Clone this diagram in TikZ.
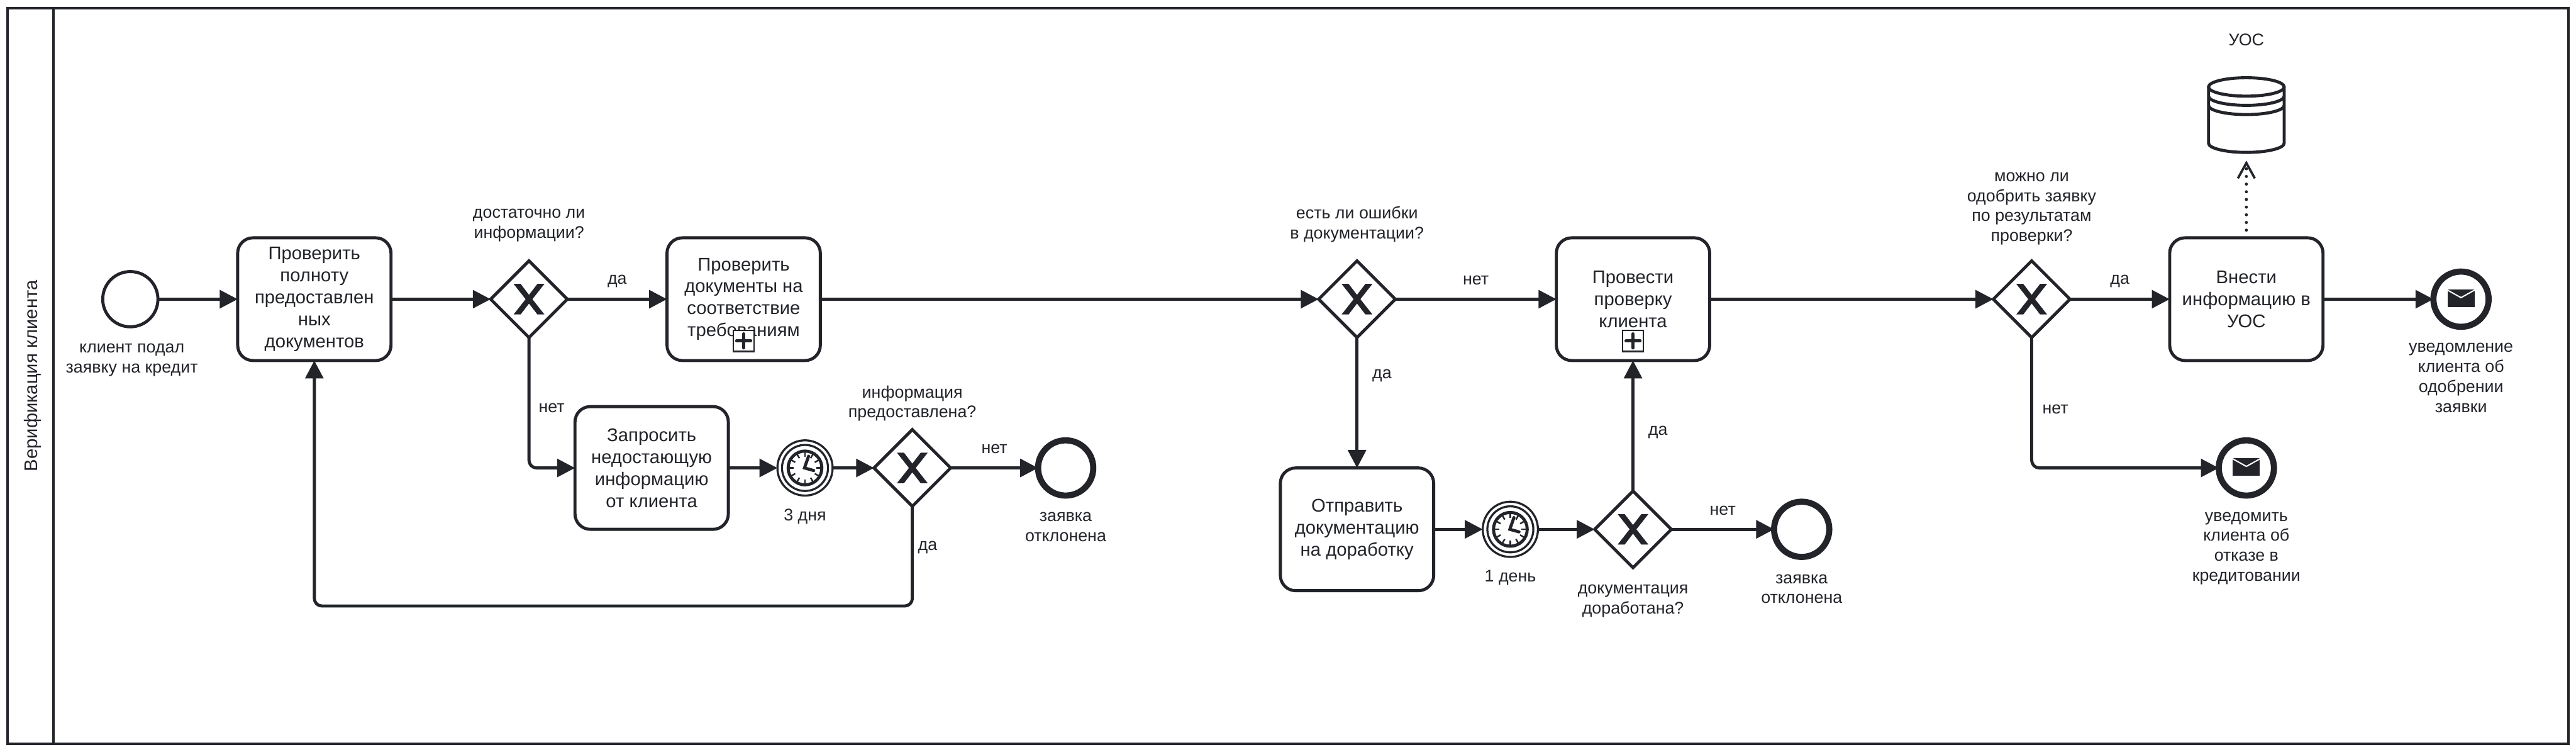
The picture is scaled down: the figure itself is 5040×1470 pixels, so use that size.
\documentclass[tikz,border=0pt]{standalone}
\usepackage{fontspec}
\setmainfont{Liberation Sans}
\usetikzlibrary{arrows.meta, positioning, shapes.geometric}
\definecolor{ink}{HTML}{22242A}

\begin{document}
\begin{tikzpicture}[
x=1pt, y=1pt,
every node/.style={text=ink},
task/.style={rectangle, rounded corners=30pt, draw=ink, line width=6pt, align=center, minimum width=300pt, minimum height=240pt, inner sep=0pt, outer sep=0pt, font={\fontsize{36}{43}\selectfont}},
gate/.style={diamond, aspect=1, draw=ink, line width=6pt, minimum width=150pt, minimum height=150pt, inner sep=0pt, outer sep=0pt,
  path picture={\fill[ink, draw=ink, line width=3pt, shift={(path picture bounding box.center)}] (-27,28.3) -- (-4.7,0) -- (-27,-28.3) -- (-17.1,-28.3) -- (0,-6) -- (17.1,-28.3) -- (27,-28.3) -- (4.7,0) -- (27,28.3) -- (17.1,28.3) -- (0,6) -- (-17.1,28.3) -- cycle;}},
startev/.style={circle, draw=ink, line width=6pt, minimum size=108pt, inner sep=0pt, outer sep=0pt},
endev/.style={circle, draw=ink, line width=12pt, minimum size=108pt, inner sep=0pt, outer sep=0pt},
msgev/.style={endev,
  path picture={
    \fill[ink, shift={(path picture bounding box.center)}] (-26.5,-15.5) rectangle (26.5,19.5);
    \draw[white, line width=2.5pt, shift={(path picture bounding box.center)}] (-27,18) -- (0,3) -- (27,18);}},
timer/.style={circle, draw=ink, line width=4pt, minimum size=108pt, inner sep=0pt, outer sep=0pt,
  path picture={
    \begin{scope}[shift={(path picture bounding box.center)}, ink]
    \draw[line width=4pt] (0,0) circle (45);
    \draw[line width=6pt] (0,0) circle (33);
    \foreach \a in {0,30,...,330} \draw[line width=3pt] (\a:22) -- (\a:31);
    \draw[line width=6pt, line cap=round] (7,23) -- (-1,0) -- (17,-5);
    \end{scope}}},
marker/.style={rectangle, draw=ink, fill=white, line width=3pt, minimum size=41pt, inner sep=0pt, outer sep=0pt,
  path picture={\draw[ink, line width=5.5pt, line cap=round, shift={(path picture bounding box.center)}] (-14,0) -- (14,0) (0,-14) -- (0,14);}},
tag/.style={align=center, inner sep=0pt, font={\fontsize{33}{39}\selectfont}},
flowtag/.style={inner sep=0pt, font={\fontsize{33}{39}\selectfont}},
line/.style={draw=ink, line width=6pt, -{Triangle[length=35pt,width=35pt]}},
elbow/.style={line, rounded corners=15pt},
dataline/.style={draw=ink, line width=6pt, line cap=round, dash pattern=on 0pt off 15pt, shorten <=15pt, shorten >=14pt, -{Straight Barb[length=30pt,width=33pt,line width=4.5pt]}}
]
\useasboundingbox (0,0) rectangle (5040,-1470);
\node[rectangle, draw=ink, line width=5pt, minimum width=5010pt, minimum height=1438pt, outer sep=0pt, inner sep=0pt] (pool) at (2520,-735) {};
\node[coordinate, right=90pt of pool.north west] (lanetop) {};
\node[coordinate, right=90pt of pool.south west] (lanebottom) {};
\draw[draw=ink, line width=5pt] (lanetop) -- (lanebottom);
\node[rotate=90, inner sep=0pt, font={\fontsize{36}{43}\selectfont}] (lanename) at ([xshift=49pt]pool.west) {Верификация клиента};

\node[startev] (start) at (255,-585) {};
\node[task, right=156pt of start] (fullcheck) {Проверить\\полноту\\предоставлен\\ных\\документов};
\node[gate, right=195pt of fullcheck] (enough) {};
\node[task, right=195pt of enough] (doccheck) {Проверить\\документы на\\соответствие\\требованиям};
\node[marker, above=18pt of doccheck.south] (docmark) {};
\node[task, below=135pt of enough, xshift=240pt] (askinfo) {Запросить\\недостающую\\информацию\\от клиента};
\node[timer, right=96pt of askinfo] (wait3) {};
\node[gate, right=81pt of wait3] (given) {};
\node[endev, right=171pt of given] (reject1) {};
\node[coordinate, below=195pt of given] (loopturn) {};

\node[gate, right=975pt of doccheck] (errors) {};
\node[task, right=315pt of errors] (clientcheck) {Провести\\проверку\\клиента};
\node[marker, above=18pt of clientcheck.south] (clientmark) {};
\node[task, below=255pt of errors] (sendback) {Отправить\\документацию\\на доработку};
\node[timer, right=96pt of sendback] (wait1) {};
\node[gate, right=111pt of wait1] (reworked) {};
\node[endev, right=201pt of reworked] (reject2) {};

\node[gate, right=555pt of clientcheck] (approve) {};
\node[task, right=195pt of approve] (storeinfo) {Внести\\информацию в\\УОС};
\node[msgev, right=216pt of storeinfo] (notifyok) {};
\node[msgev, below=156pt of storeinfo] (notifyno) {};
\node[minimum size=150pt, inner sep=0pt, outer sep=0pt, above=165pt of storeinfo] (store) {};
\draw[draw=ink, line width=6pt, shift={(store.center)}] (0,55) ellipse [x radius=74, y radius=18]
  (-74,37) arc [start angle=180, end angle=360, x radius=74, y radius=18]
  (-74,19) arc [start angle=180, end angle=360, x radius=74, y radius=18]
  (-74,55) -- (-74,-55) arc [start angle=180, end angle=360, x radius=74, y radius=18] -- (74,55);

\node[tag, below=33pt of start, xshift=3pt] (startname) {клиент подал\\заявку на кредит};
\node[tag, above=37pt of enough] (enoughname) {достаточно ли\\информации?};
\node[tag, above=16pt of given] (givenname) {информация\\предоставлена?};
\node[tag, below=26pt of wait3] (wait3name) {3 дня};
\node[tag, below=33pt of reject1] (reject1name) {заявка\\отклонена};
\node[tag, above=36pt of errors] (errorsname) {есть ли ошибки\\в документации?};
\node[tag, below=33pt of reworked] (reworkedname) {документация\\доработана?};
\node[tag, below=26pt of wait1] (wait1name) {1 день};
\node[tag, below=34pt of reject2] (reject2name) {заявка\\отклонена};
\node[tag, above=31pt of approve] (approvename) {можно ли\\одобрить заявку\\по результатам\\проверки?};
\node[tag, below=32pt of notifyok] (notifyokname) {уведомление\\клиента об\\одобрении\\заявки};
\node[tag, below=32pt of notifyno] (notifynoname) {уведомить\\клиента об\\отказе в\\кредитовании};
\node[tag, above=60pt of store] (storename) {УОС};

\draw[line] (start) -- (fullcheck);
\draw[line] (fullcheck) -- (enough);
\draw[line] (enough) -- node[flowtag, above=20pt] (enoughyes) {да} (doccheck);
\draw[elbow] (enough) |- node[flowtag, right=16pt, pos=0.27] (enoughno) {нет} (askinfo);
\draw[line] (askinfo) -- (wait3);
\draw[line] (wait3) -- (given);
\draw[line] (given) -- node[flowtag, above=25pt] (givenno) {нет} (reject1);
\draw[elbow] (given) -- node[flowtag, right=8pt, pos=0.41] (givenyes) {да} (loopturn) -| (fullcheck);
\draw[line] (doccheck) -- (errors);
\draw[line] (errors) -- node[flowtag, above=25pt] (errorsno) {нет} (clientcheck);
\draw[line] (errors) -- node[flowtag, right=27pt, pos=0.29] (errorsyes) {да} (sendback);
\draw[line] (sendback) -- (wait1);
\draw[line] (wait1) -- (reworked);
\draw[line] (reworked) -- node[flowtag, above=25pt] (reworkedno) {нет} (reject2);
\draw[line] (reworked) -- node[flowtag, right=27pt, pos=0.45] (reworkedyes) {да} (clientcheck);
\draw[line] (clientcheck) -- (approve);
\draw[line] (approve) -- node[flowtag, above=20pt] (approveyes) {да} (storeinfo);
\draw[elbow] (approve) |- node[flowtag, right=18pt, pos=0.275] (approveno) {нет} (notifyno);
\draw[line] (storeinfo) -- (notifyok);
\draw[dataline] (storeinfo) -- (store);
\end{tikzpicture}
\end{document}
